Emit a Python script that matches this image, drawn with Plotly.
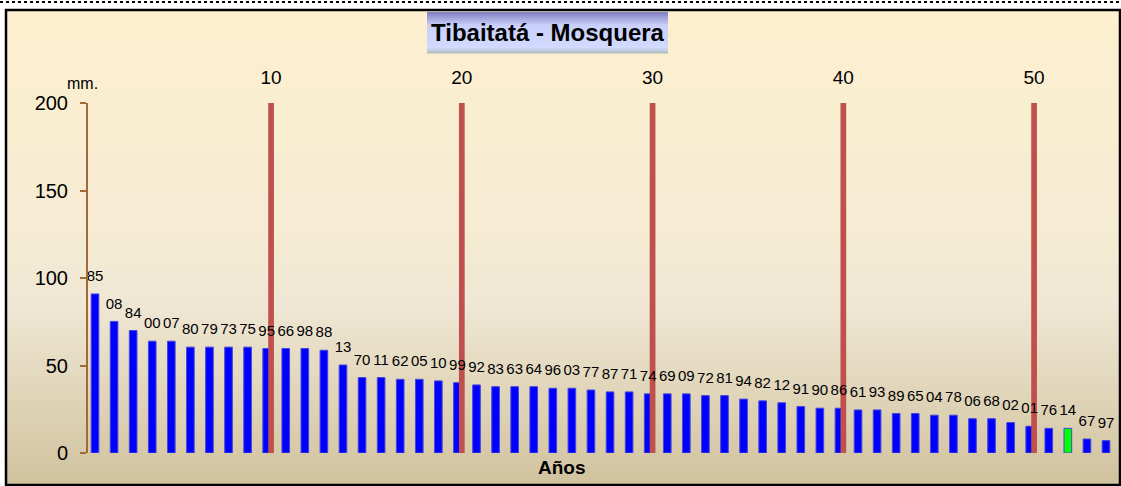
import plotly.graph_objects as go

# rainfall ranking, Tibaitatá - Mosquera
years = ["85", "08", "84", "00", "07", "80", "79", "73", "75", "95", "66", "98", "88", "13",
         "70", "11", "62", "05", "10", "99", "92", "83", "63", "64", "96", "03", "77", "87",
         "71", "74", "69", "09", "72", "81", "94", "82", "12", "91", "90", "86", "61", "93",
         "89", "65", "04", "78", "06", "68", "02", "01", "76", "14", "67", "97"]
rain = [90.9, 75.2, 70.0, 63.9, 63.9, 60.5, 60.5, 60.5, 60.5, 59.7, 59.7, 59.7, 58.7, 50.3,
        43.1, 43.1, 42.1, 42.1, 41.2, 40.2, 38.9, 37.9, 37.9, 37.9, 37.0, 37.0, 36.0, 34.9,
        34.9, 33.8, 33.8, 33.8, 32.8, 32.8, 30.8, 29.8, 28.7, 26.6, 25.6, 25.6, 24.6, 24.6,
        22.6, 22.6, 21.6, 21.6, 19.6, 19.6, 17.4, 15.3, 14.1, 14.1, 8.0, 7.1]
highlight_year = "14"
rank_marks = [10, 20, 30, 40, 50]
rank_top = [200, 200, 200, 200, 200]

W, H = 1121, 486
L, R, T, B = 88, 1115, 103, 453
FONT = "Liberation Sans, Arial, sans-serif"
SHIFT = 0.23  # secondary axis sits slightly left of the bar axis


def px(x):
    return (x - L) / (R - L)


def py(y):
    return (B - y) / (B - T)


def mix(c1, c2, t):
    a = [int(c1[i:i + 2], 16) for i in (1, 3, 5)]
    b = [int(c2[i:i + 2], 16) for i in (1, 3, 5)]
    return "rgb(%d,%d,%d)" % tuple(round(a[k] + (b[k] - a[k]) * t) for k in range(3))


def gradient(x0, x1, y0, y1, stops, step=4):
    out = []
    y = y0
    while y < y1:
        yy = min(y + step, y1)
        f = (y - y0) / (y1 - y0)
        for (f0, c0), (f1, c1) in zip(stops, stops[1:]):
            if f0 <= f <= f1:
                col = mix(c0, c1, (f - f0) / (f1 - f0) if f1 > f0 else 0)
                break
        out.append(dict(type="rect", xref="paper", yref="paper", layer="below",
                        x0=px(x0), x1=px(x1), y0=py(yy + 0.5), y1=py(y),
                        fillcolor=col, line_width=0))
        y = yy
    return out


shapes = []
shapes += gradient(6, 1120, 10, 485, [(0, "#FDEFD0"), (0.45, "#F6ECD3"),
                                      (0.62, "#EFE7D4"), (1, "#D1C29E")])
shapes += gradient(427, 668, 12, 53, [(0, "#8585C6"), (0.3, "#C9D0FA"),
                                      (0.85, "#D2DAFF"), (1, "#A9B8AE")], step=2)
shapes.append(dict(type="rect", xref="paper", yref="paper", x0=px(6), x1=px(1120),
                   y0=py(485), y1=py(10), line=dict(color="black", width=2.5)))
shapes.append(dict(type="line", xref="paper", yref="paper", x0=px(0), x1=px(1121),
                   y0=py(2), y1=py(2), line=dict(color="black", width=2, dash="dot")))

xs = list(range(1, len(rain) + 1))
colors = ["#00FF00" if y == highlight_year else "#0000FF" for y in years]
fig = go.Figure()
fig.add_trace(go.Bar(
    x=xs, y=rain, width=0.4,
    marker=dict(color=colors, line=dict(color="#4646D8", width=1)),
    showlegend=False, hoverinfo="skip",
))
fig.add_trace(go.Bar(
    x=rank_marks, y=rank_top, xaxis="x2", width=0.3,
    marker=dict(color="#C0504D", line_width=0), showlegend=False,
))
# year labels, drawn on the top axis so they sit above the red markers
fig.add_trace(go.Scatter(
    x=[v - SHIFT for v in xs], y=rain, text=years, xaxis="x2",
    mode="markers+text", textposition="top center",
    marker=dict(size=13, opacity=0),
    textfont=dict(size=15, color="black", family=FONT), cliponaxis=False,
    showlegend=False,
))

unit = (1106 - 95) / 53
r0 = 1 - (95 - L) / unit
r1 = 54 + (R - 1106) / unit
fig.update_layout(
    width=W, height=H, margin=dict(l=L, r=W - R, t=T, b=H - B, pad=0),
    paper_bgcolor="white", plot_bgcolor="rgba(0,0,0,0)",
    font=dict(family=FONT, color="black"),
    barmode="overlay", shapes=shapes,
    xaxis=dict(range=[r0, r1], showgrid=False, zeroline=False, showline=False,
               showticklabels=False, ticks=""),
    xaxis2=dict(range=[r0 - SHIFT, r1 - SHIFT], overlaying="x", side="top",
                tickvals=rank_marks, ticktext=[str(v) for v in rank_marks],
                showgrid=False, zeroline=False, showline=False,
                ticks="outside", ticklen=10, tickcolor="rgba(0,0,0,0)",
                tickfont=dict(size=19, family=FONT)),
    yaxis=dict(range=[0, 200], dtick=50, showgrid=False, zeroline=False,
               showline=True, linecolor="#A26A34", linewidth=2,
               ticks="outside", ticklen=6, tickcolor="#A26A34", tickwidth=2,
               ticklabelstandoff=8, tickfont=dict(size=20, family=FONT)),
    annotations=[
        dict(text="<b>Tibaitatá - Mosquera</b>", xref="paper", yref="paper",
             x=px(548), y=py(32), showarrow=False,
             font=dict(size=24, family=FONT, color="black"),
             xanchor="center", yanchor="middle"),
        dict(text="<b>Años</b>", xref="paper", yref="paper", x=px(562), y=py(467),
             showarrow=False, font=dict(size=19, family=FONT),
             xanchor="center", yanchor="middle"),
        dict(text="mm.", xref="paper", yref="paper", x=px(82), y=py(83),
             showarrow=False, font=dict(size=16, family=FONT),
             xanchor="center", yanchor="middle"),
    ],
)

fig.write_html("out.html", config={"displayModeBar": False},
               post_script="document.body.style.margin='0';")
